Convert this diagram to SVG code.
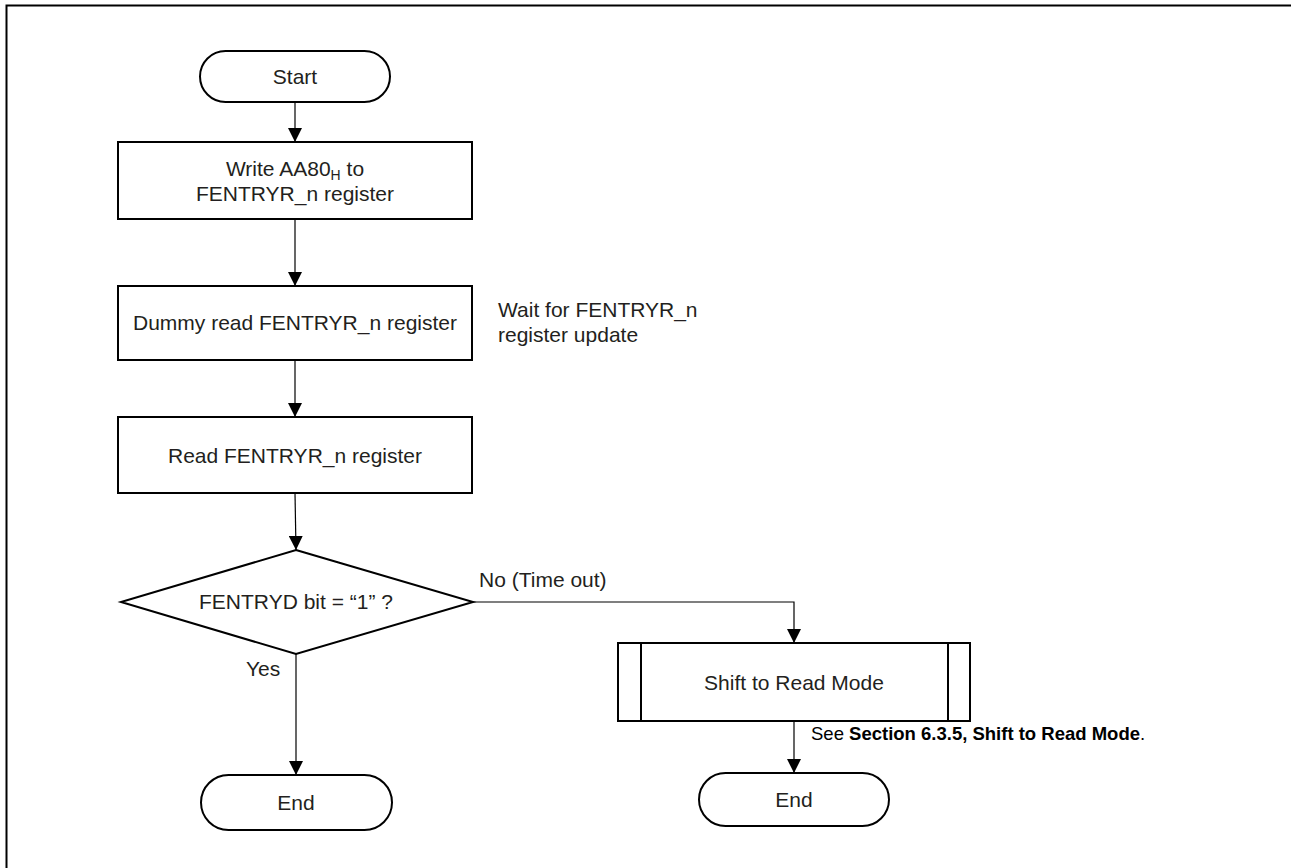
<svg xmlns="http://www.w3.org/2000/svg" width="1291" height="868" viewBox="0 0 1291 868">
<style>
  .shape { fill: #ffffff; stroke: #000000; stroke-width: 2; }
  .conn { fill: none; stroke: #000000; stroke-width: 1.2; }
  .t { font-family: "Liberation Sans", Arial, sans-serif; font-size: 21px; fill: #231f20; text-anchor: middle; }
  .tl { font-family: "Liberation Sans", Arial, sans-serif; font-size: 21px; fill: #231f20; }
  .note { font-family: "Liberation Sans", Arial, sans-serif; font-size: 18.5px; fill: #000000; }
  .frame { fill: none; stroke: #000000; stroke-width: 2; }
</style>
<defs>
  <marker id="arrow" markerUnits="userSpaceOnUse" markerWidth="14" markerHeight="14" viewBox="0 0 14 14" refX="14" refY="7" orient="auto">
    <path d="M0,0 L14,7 L0,14 Z" fill="#000000"/>
  </marker>
</defs>
<rect width="1291" height="868" fill="#ffffff"/>
<path class="frame" d="M6.5,868 V5.5 H1291"/>

<g id="connectors">
  <line class="conn" x1="295" y1="102" x2="295" y2="142" marker-end="url(#arrow)"/>
  <line class="conn" x1="295" y1="219" x2="295" y2="286" marker-end="url(#arrow)"/>
  <line class="conn" x1="295" y1="360" x2="295" y2="417" marker-end="url(#arrow)"/>
  <line class="conn" x1="295" y1="493" x2="296" y2="550" marker-end="url(#arrow)"/>
  <line class="conn" x1="296" y1="654" x2="296" y2="775" marker-end="url(#arrow)"/>
  <path class="conn" d="M473,602 H794 V643" marker-end="url(#arrow)"/>
  <line class="conn" x1="794" y1="721" x2="794" y2="773" marker-end="url(#arrow)"/>
  <text class="tl" x="246" y="676">Yes</text>
  <text class="tl" x="479" y="587">No (Time out)</text>
</g>

<g id="start">
  <rect class="shape" x="200" y="51" width="190" height="51" rx="25.5" ry="25.5"/>
  <text class="t" x="295" y="84">Start</text>
</g>

<g id="write">
  <rect class="shape" x="118" y="142" width="354" height="77"/>
  <text class="t" x="295" y="176">Write AA80<tspan font-size="14" dy="4">H</tspan><tspan dy="-4"> to</tspan></text>
  <text class="t" x="295" y="201">FENTRYR_n register</text>
</g>

<g id="dummy">
  <rect class="shape" x="118" y="286" width="354" height="74"/>
  <text class="t" x="295" y="330">Dummy read FENTRYR_n register</text>
</g>

<g id="wait-note">
  <text class="tl" x="498" y="317">Wait for FENTRYR_n</text>
  <text class="tl" x="498" y="342">register update</text>
</g>

<g id="read">
  <rect class="shape" x="118" y="417" width="354" height="76"/>
  <text class="t" x="295" y="463">Read FENTRYR_n register</text>
</g>

<g id="decision">
  <polygon class="shape" points="296,550 473,602 296,654 121,602"/>
  <text class="t" x="296" y="609">FENTRYD bit = “1” ?</text>
</g>

<g id="end-yes">
  <rect class="shape" x="201" y="775" width="191" height="55" rx="27.5" ry="27.5"/>
  <text class="t" x="296" y="810">End</text>
</g>

<g id="shift">
  <rect class="shape" x="618" y="643" width="352" height="78"/>
  <line class="shape" x1="641" y1="643" x2="641" y2="721"/>
  <line class="shape" x1="948" y1="643" x2="948" y2="721"/>
  <text class="t" x="794" y="690">Shift to Read Mode</text>
</g>

<g id="see-note">
  <text class="note" x="811" y="740">See <tspan font-weight="bold">Section 6.3.5, Shift to Read Mode</tspan>.</text>
</g>

<g id="end-no">
  <rect class="shape" x="699" y="773" width="190" height="53" rx="26.5" ry="26.5"/>
  <text class="t" x="794" y="807">End</text>
</g>
</svg>
